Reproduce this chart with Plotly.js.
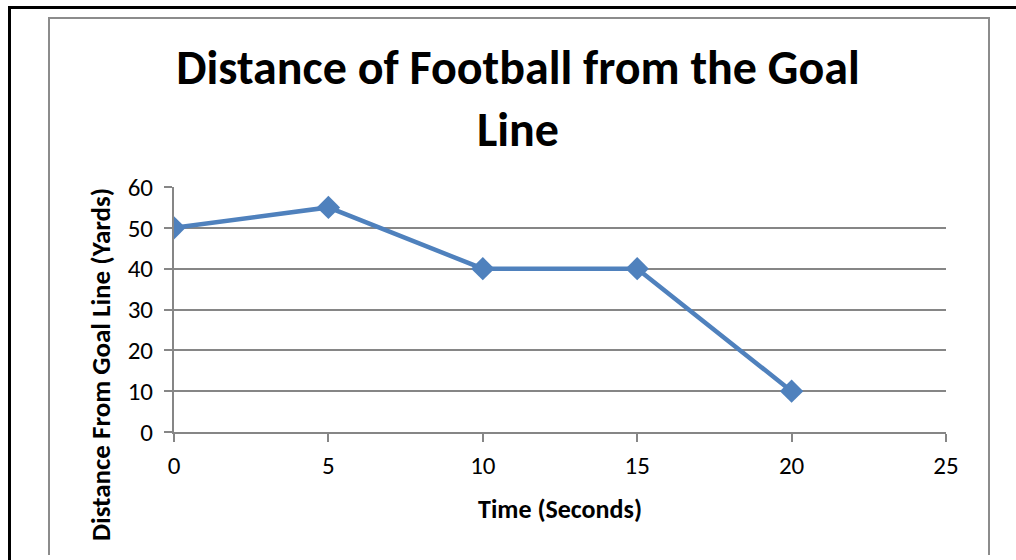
<!DOCTYPE html>
<html>
<head>
<meta charset="utf-8">
<script src="https://cdn.plot.ly/plotly-3.0.1.min.js"></script>
<style>
  html, body { margin: 0; padding: 0; background: #fff; width: 1016px; height: 560px; overflow: hidden; }
  #outer { position: absolute; left: 8px; top: 6px; width: 1020px; height: 600px; border-left: 3px solid #000; border-top: 3px solid #000; }
  #inner { position: absolute; left: 48px; top: 17px; width: 938px; height: 536px; border-left: 2px solid #8c8c8c; border-top: 2px solid #8c8c8c; border-right: 2px solid #8c8c8c; }
  #chart { position: absolute; left: 0; top: 0; width: 1016px; height: 560px; }
</style>
</head>
<body>
<div id="outer"></div>
<div id="inner"></div>
<div id="chart"></div>
<script>
const timeSeconds = [0, 5, 10, 15, 20];
const distanceYards = [50, 55, 40, 40, 10];
const xTicks = [0, 5, 10, 15, 20, 25];
const yTicks = [0, 10, 20, 30, 40, 50, 60];
const chartTitle = 'Distance of Football from the Goal<br>Line';
const xTitle = 'Time (Seconds)';
const yTitle = 'Distance From Goal Line (Yards)';

const FONT = "Carlito, Lato, 'Open Sans', sans-serif";

const trace = {
  x: timeSeconds,
  y: distanceYards,
  type: 'scatter',
  mode: 'lines+markers',
  line: { color: '#4F81BD', width: 4.5 },
  marker: { symbol: 'diamond', size: 18, color: '#4F81BD' },
  showlegend: false,
  hoverinfo: 'x+y'
};

const layout = {
  width: 1016,
  height: 560,
  paper_bgcolor: 'rgba(0,0,0,0)',
  plot_bgcolor: 'rgba(0,0,0,0)',
  margin: { l: 174, r: 70, t: 187, b: 128 },
  font: { family: FONT, color: '#000', size: 25 },
  title: {
    text: '<b>' + chartTitle + '</b>',
    font: { family: FONT, size: 48, color: '#000' },
    x: 518 / 1016,
    xref: 'container',
    xanchor: 'center',
    y: 1 - 84 / 560,
    yref: 'container',
    yanchor: 'top'
  },
  xaxis: {
    range: [0, 25],
    tickvals: xTicks,
    ticktext: xTicks.map(String),
    showgrid: false,
    zeroline: false,
    showline: true,
    linecolor: '#868686',
    linewidth: 2,
    ticks: 'outside',
    ticklen: 8,
    tickwidth: 2,
    tickcolor: '#868686',
    ticklabelstandoff: 2,
    tickfont: { family: FONT, size: 25, color: '#000' },
    title: { text: '<b>' + xTitle + '</b>', font: { family: FONT, size: 26, color: '#000' }, standoff: 20 },
    fixedrange: true
  },
  yaxis: {
    range: [0, 60],
    tickvals: yTicks,
    ticktext: yTicks.map(String),
    showgrid: true,
    gridcolor: '#868686',
    gridwidth: 2,
    zeroline: false,
    showline: true,
    linecolor: '#868686',
    linewidth: 2,
    ticks: 'outside',
    ticklen: 8,
    tickwidth: 2,
    tickcolor: '#868686',
    ticklabelstandoff: 6,
    tickfont: { family: FONT, size: 25, color: '#000' },
    fixedrange: true
  },
  annotations: [{
    text: '<b>' + yTitle + '</b>',
    textangle: -90,
    xref: 'paper', yref: 'paper',
    x: (100 - 174) / 772,
    y: (432 - 365) / 245,
    xanchor: 'center', yanchor: 'middle',
    showarrow: false,
    font: { family: FONT, size: 27, color: '#000' }
  }]
};

Plotly.newPlot('chart', [trace], layout, { displayModeBar: false, staticPlot: true });
</script>
</body>
</html>
